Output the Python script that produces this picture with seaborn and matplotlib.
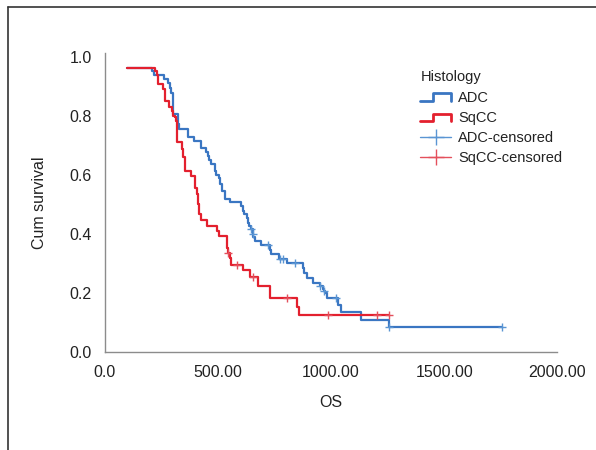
import numpy as np
import pandas as pd
import matplotlib
matplotlib.use('Agg')
import matplotlib.pyplot as plt
import seaborn as sns
from matplotlib.lines import Line2D
from matplotlib.legend_handler import HandlerBase

sns.set_style('white')
plt.rcParams['font.family'] = ['Liberation Sans', 'DejaVu Sans']

# Kaplan-Meier steps (time, survival after the step)
adc_time = [96, 210, 217, 261, 280, 288, 292, 299, 302, 322, 325, 329, 369, 396, 423, 447, 457,
            462, 468, 487, 491, 506, 509, 516, 531, 553, 600, 609, 615, 627, 634, 639, 644, 653,
            656, 664, 689, 730, 733, 771, 803, 877, 881, 895, 919, 949, 963, 967, 974, 984, 1032,
            1043, 1131, 1258, 1755]
adc_surv = [0.965, 0.952, 0.939, 0.925, 0.911, 0.894, 0.877, 0.843, 0.809, 0.792, 0.775, 0.757,
            0.730, 0.717, 0.692, 0.677, 0.666, 0.652, 0.637, 0.614, 0.601, 0.590, 0.569, 0.546,
            0.518, 0.509, 0.495, 0.478, 0.467, 0.455, 0.438, 0.427, 0.416, 0.399, 0.389, 0.375,
            0.362, 0.347, 0.332, 0.316, 0.301, 0.284, 0.267, 0.250, 0.233, 0.222, 0.214, 0.205,
            0.199, 0.182, 0.159, 0.134, 0.108, 0.085, 0.085]
adc_censored = [645, 654, 723, 774, 789, 841, 951, 969, 1022, 1258, 1755]

sqcc_time = [96, 221, 229, 236, 255, 266, 283, 295, 300, 310, 314, 320, 339, 347, 354, 379, 398,
             406, 413, 417, 423, 450, 494, 506, 539, 546, 553, 556, 612, 642, 677, 730, 848, 860,
             1254]
sqcc_surv = [0.965, 0.953, 0.939, 0.910, 0.893, 0.853, 0.830, 0.817, 0.802, 0.796, 0.785, 0.711,
             0.688, 0.660, 0.614, 0.597, 0.557, 0.535, 0.501, 0.467, 0.446, 0.427, 0.410, 0.392,
             0.353, 0.335, 0.318, 0.296, 0.277, 0.253, 0.225, 0.182, 0.154, 0.125, 0.125]
sqcc_censored = [546, 582, 655, 805, 988, 1205, 1254]

groups = ['ADC', 'SqCC']
line_colors = {'ADC': '#3a76c2', 'SqCC': '#e3202e'}
cens_colors = {'ADC': '#5a95d3', 'SqCC': '#e4505c'}

df = pd.concat([
    pd.DataFrame({'OS': adc_time, 'surv': adc_surv, 'Histology': 'ADC'}),
    pd.DataFrame({'OS': sqcc_time, 'surv': sqcc_surv, 'Histology': 'SqCC'}),
])


def at_time(times, surv, t):
    i = np.searchsorted(times, t, side='right') - 1
    return np.asarray(surv)[i]


df_c = pd.concat([
    pd.DataFrame({'OS': adc_censored, 'surv': at_time(adc_time, adc_surv, adc_censored),
                  'Histology': 'ADC'}),
    pd.DataFrame({'OS': sqcc_censored, 'surv': at_time(sqcc_time, sqcc_surv, sqcc_censored),
                  'Histology': 'SqCC'}),
])

fig = plt.figure(figsize=(5.96, 4.5), dpi=100)
ax = fig.add_axes([0.176, 0.218, 0.759, 0.664])

sns.lineplot(data=df, x='OS', y='surv', hue='Histology', palette=line_colors,
             drawstyle='steps-post', estimator=None, sort=False, linewidth=1.6,
             legend=False, ax=ax)
for g in groups:
    sub = df_c[df_c['Histology'] == g]
    ax.scatter(sub['OS'], sub['surv'], marker='+', s=32, linewidths=1.0,
               color=cens_colors[g], zorder=3)

ax.set_xlim(0, 2000)
ax.set_ylim(0, 1.014)
ax.set_xticks([0, 500, 1000, 1500, 2000])
ax.set_xticklabels(['0.0', '500.00', '1000.00', '1500.00', '2000.00'])
ax.set_yticks([0, 0.2, 0.4, 0.6, 0.8, 1.0])
ax.set_yticklabels(['0.0', '0.2', '0.4', '0.6', '0.8', '1.0'])
ax.tick_params(axis='both', length=0, labelsize=11.5, colors='#222222', pad=9.5)
ax.set_xlabel('OS', fontsize=11.5, color='#222222', labelpad=11)
ax.set_ylabel('Cum survival', fontsize=11.5, color='#222222', labelpad=16)
sns.despine(ax=ax)
for s in ['left', 'bottom']:
    ax.spines[s].set_color('#8c8c8c')
    ax.spines[s].set_linewidth(1.0)


class StepHandler(HandlerBase):
    def create_artists(self, legend, orig_handle, xdescent, ydescent, width, height,
                       fontsize, trans):
        lo, hi = height * 0.1, height * 0.8
        xs = [0, width * 0.42, width * 0.42, width, width]
        ys = [lo, lo, hi, hi, lo]
        ln = Line2D(np.array(xs) - xdescent, np.array(ys) - ydescent,
                    color=orig_handle.get_color(), linewidth=2.0, transform=trans)
        return [ln]


handles = [
    Line2D([], [], color=line_colors['ADC']),
    Line2D([], [], color=line_colors['SqCC']),
    Line2D([0], [0], color=cens_colors['ADC'], marker='+', markersize=12, linewidth=1.0,
           markeredgewidth=1.0),
    Line2D([0], [0], color=cens_colors['SqCC'], marker='+', markersize=12, linewidth=1.0,
           markeredgewidth=1.0),
]
labels = ['ADC', 'SqCC', 'ADC-censored', 'SqCC-censored']
leg = fig.legend(handles, labels, title='Histology', loc='upper left',
                 bbox_to_anchor=(0.693, 0.860), frameon=False, fontsize=10.5,
                 title_fontsize=10.5, handlelength=2.1, handletextpad=0.5,
                 labelspacing=0.43, borderpad=0, alignment='left',
                 handler_map={handles[0]: StepHandler(), handles[1]: StepHandler()})
leg.get_title().set_color('#222222')
for t in leg.get_texts():
    t.set_color('#222222')

# outer frame (top and left edges only)
fig.add_artist(Line2D([0.0134, 1.0], [0.984, 0.984], transform=fig.transFigure,
                      color='#333333', linewidth=1.2))
fig.add_artist(Line2D([0.0134, 0.0134], [0.0, 0.984], transform=fig.transFigure,
                      color='#333333', linewidth=1.2))

fig.savefig('out.png', dpi=100)
